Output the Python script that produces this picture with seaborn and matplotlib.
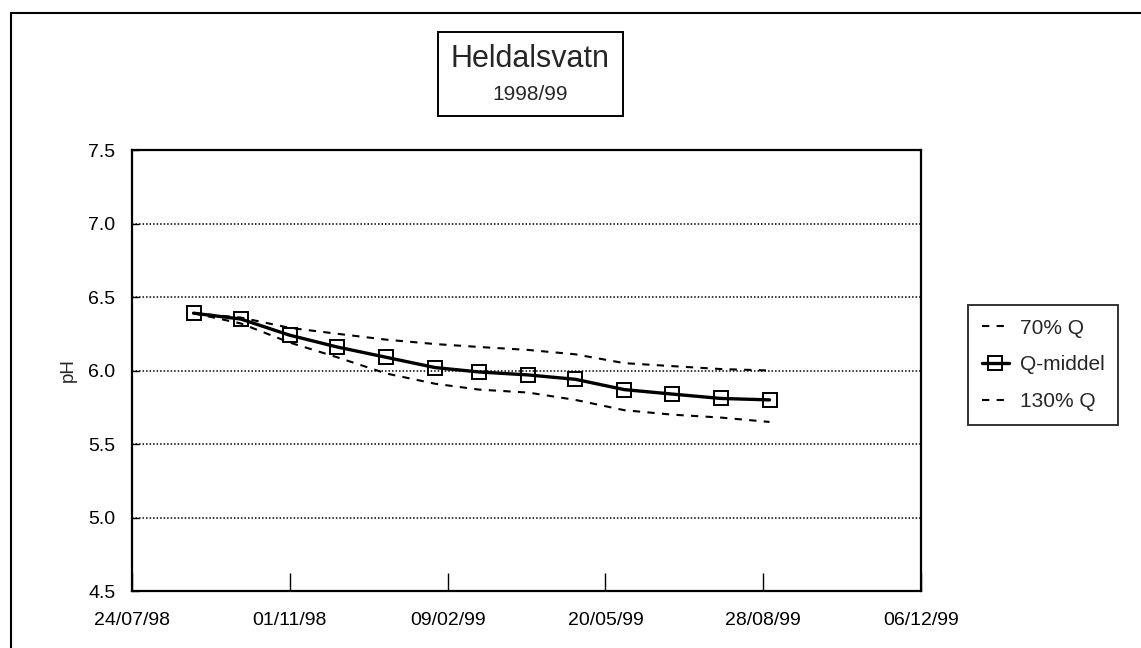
import numpy as np
import pandas as pd
import matplotlib
matplotlib.use("Agg")
import matplotlib.pyplot as plt
import matplotlib.dates as mdates
from matplotlib.patches import Rectangle
from matplotlib.lines import Line2D
import seaborn as sns

# DATA
dates = pd.date_range("1998-09-01", "1999-09-01", freq="MS")
ph_middel = [6.39, 6.35, 6.24, 6.16, 6.09, 6.02, 5.99, 5.97, 5.94, 5.87, 5.84, 5.81, 5.80]
ph_70 = [6.39, 6.36, 6.29, 6.25, 6.21, 6.18, 6.16, 6.14, 6.11, 6.05, 6.03, 6.01, 6.00]
ph_130 = [6.39, 6.32, 6.19, 6.09, 5.98, 5.91, 5.87, 5.85, 5.80, 5.73, 5.70, 5.68, 5.65]
tick_dates = pd.date_range("1998-07-24", periods=6, freq="100D")
y_ticks = [4.5, 5.0, 5.5, 6.0, 6.5, 7.0, 7.5]

sns.set_style("white")
plt.rcParams["font.family"] = ["Liberation Sans", "DejaVu Sans"]

W, H = 1141, 648
fig = plt.figure(figsize=(W / 100, H / 100), dpi=100)
ax = fig.add_axes([132 / W, 1 - 591 / H, (921 - 132) / W, (591 - 150) / H])

df = pd.DataFrame({"date": dates, "70% Q": ph_70, "Q-middel": ph_middel, "130% Q": ph_130})

# GRID FIRST SO LINES SIT ON TOP
for y in y_ticks[1:-1]:
    ax.axhline(y, color="k", linestyle=(0, (1, 1.3)), linewidth=1.1, zorder=1)

sns.lineplot(data=df, x="date", y="70% Q", ax=ax, color="k", linewidth=1.5,
             linestyle=(0, (3.5, 3.5)), label="70% Q", zorder=3)
sns.lineplot(data=df, x="date", y="Q-middel", ax=ax, color="k", linewidth=2.4,
             marker="s", markersize=9.5, markerfacecolor="none", markeredgecolor="k",
             markeredgewidth=1.4, label="Q-middel", zorder=4)
sns.lineplot(data=df, x="date", y="130% Q", ax=ax, color="k", linewidth=1.5,
             linestyle=(0, (3.5, 3.5)), label="130% Q", zorder=3)

# AXES LIMITS AND TICKS
ax.set_xlim(tick_dates[0], tick_dates[-1])
ax.set_ylim(4.5, 7.5)
ax.set_xticks(tick_dates)
ax.xaxis.set_major_formatter(mdates.DateFormatter("%d/%m/%y"))
ax.set_yticks(y_ticks)
ax.set_yticklabels([f"{v:.1f}" for v in y_ticks])
ax.tick_params(axis="x", direction="in", length=13, width=1, pad=15, labelsize=14, colors="k")
ax.tick_params(axis="y", direction="in", length=5, width=1, pad=12, labelsize=14, colors="k")
ax.tick_params(bottom=True, left=True)
for s in ax.spines.values():
    s.set_color("k")
    s.set_linewidth(1.6)

ax.set_xlabel("")
ax.set_ylabel("pH", fontsize=13.5, labelpad=8)

ax.get_legend().remove()
handles, labels = ax.get_legend_handles_labels()
leg = fig.legend(handles, labels, loc="upper left", bbox_to_anchor=(968 / W, 1 - 305 / H),
                 fontsize=15, frameon=True, fancybox=False, handlelength=1.3,
                 labelspacing=0.85, borderpad=0.65, borderaxespad=0, handletextpad=0.55)
leg.get_frame().set_edgecolor("k")
leg.get_frame().set_linewidth(1.4)

# TITLE BOX
fig.patches.append(Rectangle((438 / W, 1 - 116 / H), 185 / W, 84 / H, transform=fig.transFigure,
                             fill=False, edgecolor="k", linewidth=1.4))
fig.text(530 / W, 1 - 59 / H, "Heldalsvatn", ha="center", va="center", fontsize=22)
fig.text(530 / W, 1 - 95 / H, "1998/99", ha="center", va="center", fontsize=15)

# OUTER FRAME (top and left edges)
fig.lines.append(Line2D([11 / W, 1], [1 - 13 / H, 1 - 13 / H], transform=fig.transFigure, color="k", linewidth=1.5))
fig.lines.append(Line2D([11 / W, 11 / W], [0, 1 - 13 / H], transform=fig.transFigure, color="k", linewidth=1.5))

plt.savefig("out.png", dpi=100)
